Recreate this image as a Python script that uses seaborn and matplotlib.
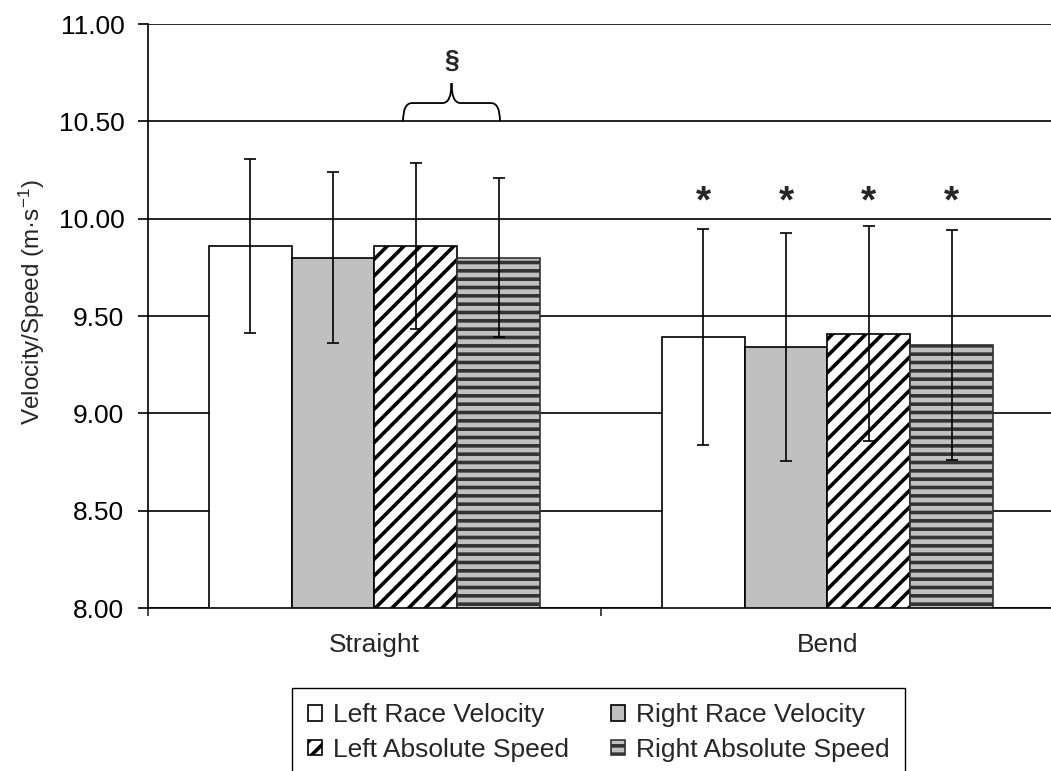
import numpy as np
import pandas as pd
import matplotlib
matplotlib.use("Agg")
import matplotlib.pyplot as plt
import seaborn as sns
from matplotlib.path import Path
from matplotlib.patches import PathPatch

# ---------------- data ----------------
sections = ["Straight", "Bend"]
measures = ["Left Race Velocity", "Right Race Velocity",
            "Left Absolute Speed", "Right Absolute Speed"]
means_straight = [9.86, 9.80, 9.86, 9.80]
means_bend = [9.39, 9.34, 9.41, 9.35]
sd_straight = [0.445, 0.44, 0.425, 0.41]
sd_bend = [0.555, 0.585, 0.55, 0.59]
yticks = [8.00, 8.50, 9.00, 9.50, 10.00, 10.50, 11.00]

# ---------------- style ----------------
sns.set_style("ticks")
plt.rcParams["font.family"] = ["Liberation Sans", "DejaVu Sans"]
plt.rcParams["mathtext.fontset"] = "custom"
plt.rcParams["mathtext.rm"] = "Liberation Sans"
plt.rcParams["mathtext.it"] = "Liberation Sans:italic"
plt.rcParams["mathtext.bf"] = "Liberation Sans:bold"
plt.rcParams["hatch.linewidth"] = 2.6

facecolors = ["white", "#c0c0c0", "white", "#c0c0c0"]
hatches = [None, None, "//", "--"]
hatchcols = ["black", "black", "black", "#333333"]

df = pd.DataFrame({
    "section": np.repeat(sections, len(measures)),
    "measure": measures * len(sections),
    "value": means_straight + means_bend,
})
sds = {("Straight", m): s for m, s in zip(measures, sd_straight)}
sds.update({("Bend", m): s for m, s in zip(measures, sd_bend)})

W, H = 1051, 771
fig = plt.figure(figsize=(W / 100, H / 100), dpi=100)
ax = fig.add_axes([148 / W, 1 - 608 / H, 906 / W, 584 / H])

sns.barplot(data=df, x="section", y="value", hue="measure",
            order=sections, hue_order=measures,
            palette=facecolors, saturation=1, width=0.73,
            errorbar=None, edgecolor="black", linewidth=1.2,
            legend=False, ax=ax, zorder=2)

bar_conts = list(ax.containers)
for i, cont in enumerate(bar_conts):
    xs, ys, es = [], [], []
    for j, p in enumerate(cont.patches):
        if hatches[i]:
            p.set_hatch(hatches[i])
            if hasattr(p, "set_hatchcolor"):
                p.set_hatchcolor(hatchcols[i])
            else:
                p.set_edgecolor(hatchcols[i])
        xs.append(p.get_x() + p.get_width() / 2)
        ys.append(p.get_height())
        es.append(sds[(sections[j], measures[i])])
    ax.errorbar(xs, ys, yerr=es, fmt="none", ecolor="black",
                elinewidth=1.2, capsize=4, capthick=1.2, zorder=3)

# asterisks over bend bars
bend_x = [c.patches[1].get_x() + c.patches[1].get_width() / 2 for c in bar_conts]
for bx in bend_x:
    ax.text(bx, 10.03, "*", ha="center", va="baseline", fontsize=28,
            fontweight="bold", zorder=4)

# brace with section sign
xl, xr = 0.063, 0.277
xm = (xl + xr) / 2
y0, ys_, yp = 10.50, 10.594, 10.696
dx = 0.02
verts = [(xl, y0), (xl, ys_), (xl + dx, ys_),
         (xm - dx, ys_), (xm, ys_), (xm, yp),
         (xm, ys_), (xm + dx, ys_),
         (xr - dx, ys_), (xr, ys_), (xr, y0)]
codes = [Path.MOVETO, Path.CURVE3, Path.CURVE3,
         Path.LINETO, Path.CURVE3, Path.CURVE3,
         Path.CURVE3, Path.CURVE3,
         Path.LINETO, Path.CURVE3, Path.CURVE3]
ax.add_patch(PathPatch(Path(verts, codes), fill=False, lw=1.3,
                       edgecolor="black", zorder=4))
ax.text(xm, 10.81, "§", ha="center", va="center", fontsize=19,
        fontweight="bold")

# axes
ax.set_ylim(8, 11)
ax.set_xlim(-0.5, 1.5)
ax.set_yticks(yticks)
ax.set_yticklabels([f"{t:.2f}" for t in yticks], fontsize=19)
ax.yaxis.grid(True, color="black", lw=1.2)
ax.set_axisbelow(True)
ax.tick_params(axis="y", direction="out", length=7, width=1.2,
               pad=10, color="black", labelcolor="black")

ax.set_xticks([-0.5, 0.5, 1.5])
ax.set_xticklabels(["", "", ""])
ax.set_xticks([0, 1], minor=True)
ax.set_xticklabels(sections, minor=True, fontsize=19)
ax.tick_params(axis="x", which="major", direction="out", length=6, width=1.2)
ax.tick_params(axis="x", which="minor", length=0, pad=18)
ax.set_xlabel("")

ax.set_ylabel("Velocity/Speed (m·s$^{\\mathrm{-1}}$)", fontsize=17.5)
ax.yaxis.set_label_coords(-0.1115, 0.524)

for s in ["top", "right"]:
    ax.spines[s].set_visible(False)
for s in ["left", "bottom"]:
    ax.spines[s].set_color("black")
    ax.spines[s].set_linewidth(1.2)

# legend
hdl = [bar_conts[i].patches[0] for i in range(4)]
order = [0, 2, 1, 3]
leg = fig.legend([hdl[i] for i in order], [measures[i] for i in order],
                 ncol=2, loc="upper center",
                 bbox_to_anchor=(598.5 / W, 1 - 688 / H),
                 fontsize=19, frameon=True, fancybox=False,
                 edgecolor="black", framealpha=1,
                 handlelength=0.55, handleheight=0.55, handletextpad=0.4,
                 columnspacing=1.6, labelspacing=0.4, borderpad=0.58,
                 borderaxespad=0)
leg.get_frame().set_linewidth(1.0)

fig.savefig("out.png", dpi=100)
